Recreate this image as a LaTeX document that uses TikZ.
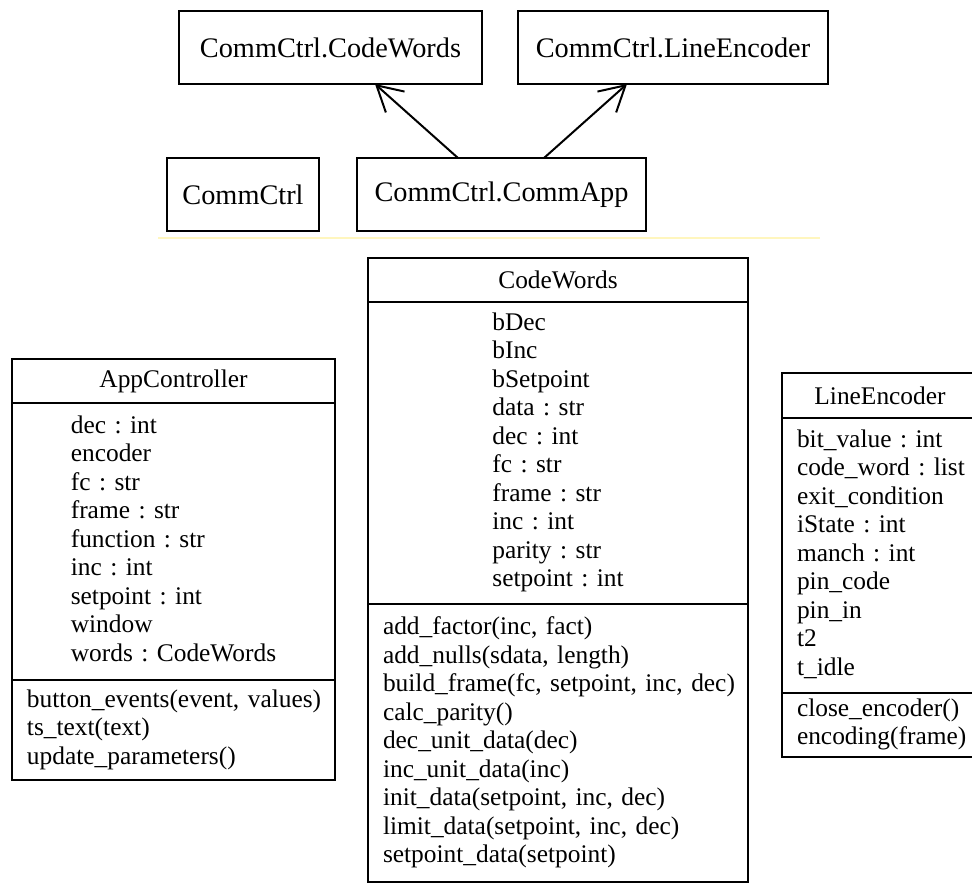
\documentclass[tikz,border=0pt]{standalone}
\usepackage{fontspec}
\setmainfont{Liberation Serif}
\usetikzlibrary{positioning, arrows.meta}

\definecolor{ruleyellow}{HTML}{FFF6BE}
\frenchspacing

\begin{document}
\begin{tikzpicture}[x=1pt, y=-1pt,
    pkg/.style={draw, line width=2pt, outer sep=0pt, inner sep=0pt, minimum height=73pt, anchor=north west, font=\fontsize{28.3}{32}\selectfont},
    cls/.style={draw, line width=2pt, outer sep=0pt, inner xsep=15pt, inner ysep=0pt, font=\fontsize{25.4}{28.5}\selectfont},
    clsname/.style={cls, align=center, minimum height=44pt, anchor=north west},
    clsattr/.style={cls, align=center},
    clsop/.style={cls, align=left},
    dep/.style={-{Straight Barb[length=25pt, width=28pt]}, line width=2pt}]
        \useasboundingbox (0,0) rectangle (972,884);

        % packages
        \node[pkg, minimum width=303pt] (pkgwords) at (179,11) {CommCtrl.CodeWords};
        \node[pkg, minimum width=310pt] (pkgenc) at (518,11) {CommCtrl.LineEncoder};
        \node[pkg, minimum width=152pt] (pkgctrl) at (167,158) {CommCtrl};
        \node[pkg, minimum width=289pt] (pkgapp) at (357,158) {CommCtrl.CommApp};

        \draw[dep] ([xshift=101pt]pkgapp.north west) -- ([xshift=196pt]pkgwords.south west);
        \draw[dep] ([xshift=187pt]pkgapp.north west) -- ([xshift=109pt]pkgenc.south west);

        \draw[ruleyellow, line width=2pt] (158,238) -- (820,238);

        % classes
        \node[clsname, text width=293pt] (app) at (12,359) {AppController};
        \node[clsattr, text width=293pt, minimum height=277pt, below=0pt of app] (appattr) {\begin{tabular}{@{}l@{}}
            dec : int\\ encoder\\ fc : str\\ frame : str\\ function : str\\ inc : int\\ setpoint : int\\ window\\ words : CodeWords
        \end{tabular}};
        \node[clsop, text width=293pt, minimum height=100pt, below=0pt of appattr] (appop) {\begin{tabular}{@{}l@{}}
            button\_events(event, values)\\ ts\_text(text)\\ update\_parameters()
        \end{tabular}};

        \node[clsname, text width=350pt] (words) at (368,258) {CodeWords};
        \node[clsattr, text width=350pt, minimum height=302pt, below=0pt of words] (wordsattr) {\begin{tabular}{@{}l@{}}
            bDec\\ bInc\\ bSetpoint\\ data : str\\ dec : int\\ fc : str\\ frame : str\\ inc : int\\ parity : str\\ setpoint : int
        \end{tabular}};
        \node[clsop, text width=350pt, minimum height=278pt, below=0pt of wordsattr] (wordsop) {\begin{tabular}{@{}l@{}}
            add\_factor(inc, fact)\\ add\_nulls(sdata, length)\\ build\_frame(fc, setpoint, inc, dec)\\ calc\_parity()\\ dec\_unit\_data(dec)\\ inc\_unit\_data(inc)\\ init\_data(setpoint, inc, dec)\\ limit\_data(setpoint, inc, dec)\\ setpoint\_data(setpoint)
        \end{tabular}};

        \node[clsname, text width=166pt, minimum height=45pt] (enc) at (782,373) {LineEncoder};
        \node[clsattr, text width=166pt, minimum height=275pt, below=0pt of enc] (encattr) {\begin{tabular}{@{}l@{}}
            bit\_value : int\\ code\_word : list\\ exit\_condition\\ iState : int\\ manch : int\\ pin\_code\\ pin\_in\\ t2\\ t\_idle
        \end{tabular}};
        \node[clsop, text width=166pt, minimum height=64pt, below=0pt of encattr] (encop) {\begin{tabular}{@{}l@{}}
            close\_encoder()\\ encoding(frame)
        \end{tabular}};

        \end{tikzpicture}
\end{document}
